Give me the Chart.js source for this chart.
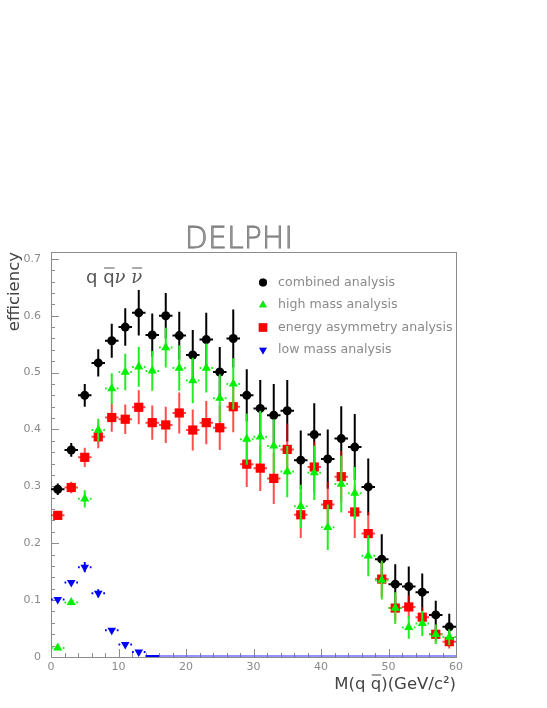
<!DOCTYPE html>
<html>
<head>
<meta charset="utf-8">
<script src="https://cdn.jsdelivr.net/npm/chart.js@4.4.0/dist/chart.umd.min.js"></script>
<style>
  html, body { margin: 0; padding: 0; background: #fff; }
  canvas { display: block; }
</style>
</head>
<body>
<canvas id="chart" width="547" height="708"></canvas>
<script>
// ---- data ----
const massBins = [1, 3, 5, 7, 9, 11, 13, 15, 17, 19, 21, 23, 25, 27, 29,
                  31, 33, 35, 37, 39, 41, 43, 45, 47, 49, 51, 53, 55, 57, 59];
const binHalfWidth = 1;

const combined    = [0.295, 0.364, 0.460, 0.517, 0.556, 0.580, 0.605, 0.566, 0.600, 0.565,
                     0.531, 0.558, 0.501, 0.560, 0.460, 0.437, 0.425, 0.433, 0.346, 0.391,
                     0.348, 0.384, 0.369, 0.299, 0.172, 0.128, 0.124, 0.114, 0.074, 0.053];
const combinedErr = [0.010, 0.012, 0.020, 0.024, 0.030, 0.033, 0.040, 0.038, 0.040, 0.042,
                     0.044, 0.047, 0.044, 0.051, 0.046, 0.050, 0.055, 0.054, 0.052, 0.055,
                     0.052, 0.057, 0.058, 0.050, 0.044, 0.035, 0.035, 0.033, 0.025, 0.023];

const highMass    = [0.016, 0.096, 0.278, 0.399, 0.472, 0.501, 0.510, 0.503, 0.544, 0.508,
                     0.486, 0.508, 0.455, 0.480, 0.383, 0.387, 0.371, 0.326, 0.265, 0.324,
                     0.228, 0.304, 0.288, 0.178, 0.135, 0.086, 0.052, 0.059, 0.040, 0.035];
const highMassErr = [0.004, 0.005, 0.015, 0.020, 0.027, 0.032, 0.035, 0.035, 0.035, 0.040,
                     0.040, 0.043, 0.042, 0.045, 0.045, 0.046, 0.047, 0.045, 0.038, 0.048,
                     0.040, 0.050, 0.046, 0.036, 0.034, 0.028, 0.020, 0.022, 0.017, 0.014];

const energyAsym    = [0.249, 0.298, 0.351, 0.387, 0.421, 0.418, 0.439, 0.412, 0.408, 0.429,
                       0.399, 0.412, 0.403, 0.440, 0.339, 0.332, 0.314, 0.365, 0.250, 0.334,
                       0.268, 0.317, 0.255, 0.217, 0.137, 0.086, 0.088, 0.070, 0.040, 0.027];
const energyAsymErr = [0.005, 0.010, 0.017, 0.020, 0.025, 0.026, 0.030, 0.030, 0.032, 0.036,
                       0.036, 0.038, 0.039, 0.045, 0.040, 0.040, 0.045, 0.045, 0.041, 0.045,
                       0.040, 0.045, 0.046, 0.038, 0.030, 0.022, 0.020, 0.018, 0.014, 0.012];

const lowMass    = [0.101, 0.131, 0.158, 0.112, 0.047, 0.022, 0.009, 0, 0, 0,
                    0, 0, 0, 0, 0, 0, 0, 0, 0, 0,
                    0, 0, 0, 0, 0, 0, 0, 0, 0, 0];
const lowMassErr = [0.003, 0.004, 0.009, 0.007, 0.004, 0.003, 0.002, 0, 0, 0,
                    0, 0, 0, 0, 0, 0, 0, 0, 0, 0,
                    0, 0, 0, 0, 0, 0, 0, 0, 0, 0];

const seriesLabels = ['combined analysis', 'high mass analysis',
                      'energy asymmetry analysis', 'low mass analysis'];

const xTickValues = [0, 10, 20, 30, 40, 50, 60];
const xTickLabels = ['0', '10', '20', '30', '40', '50', '60'];
const yTickValues = [0, 0.1, 0.2, 0.3, 0.4, 0.5, 0.6, 0.7];
const yTickLabels = ['0', '0.1', '0.2', '0.3', '0.4', '0.5', '0.6', '0.7'];
const xMinorStep = 2;
const yMinorStep = 0.02;

const chartTitle = 'DELPHI';
const yTitle = 'efficiency';

// ---- helpers ----
function toPoints(vals) {
    return massBins.map((m, i) => ({ x: m, y: vals[i] }));
}

function drawOverlined(ctx, parts, x, y) {
    // parts: [text, overline height, font] drawn left to right from x
    let cx = x;
    parts.forEach(([txt, bar, font]) => {
        if (font) ctx.font = font;
        const w = ctx.measureText(txt).width;
        ctx.fillText(txt, cx, y);
        if (bar) {
            ctx.beginPath();
            ctx.moveTo(cx + 1, y - bar);
            ctx.lineTo(cx + w, y - bar);
            ctx.stroke();
        }
        cx += w;
    });
    return cx;
}

// error bars, drawn right before each dataset so the stacking matches
const errorBars = {
    id: 'errorBars',
    beforeDatasetDraw(chart, args) {
        const ds = chart.data.datasets[args.index];
        if (!ds.yErr) return;
        const ctx = chart.ctx;
        const xs = chart.scales.x, ys = chart.scales.y;
        ctx.save();
        ctx.lineWidth = 2;
        ds.data.forEach((p, i) => {
            const px = xs.getPixelForValue(p.x);
            const py = ys.getPixelForValue(p.y);
            const x0 = xs.getPixelForValue(p.x - binHalfWidth);
            const x1 = xs.getPixelForValue(p.x + binHalfWidth);
            const e = ds.yErr[i];
            if (p.y === 0) {
                // first empty bin darker, the rest sit on the axis
                const prev = i > 0 ? ds.data[i - 1].y : 0;
                ctx.strokeStyle = prev > 0 ? ds.barColor : ds.zeroColor;
                ctx.beginPath();
                ctx.moveTo(x0, py - 1);
                ctx.lineTo(x1, py - 1);
                ctx.stroke();
                return;
            }
            ctx.strokeStyle = ds.barColor;
            const g = ds.barGap;
            ctx.beginPath();
            ctx.moveTo(x0, py); ctx.lineTo(px - g, py);
            ctx.moveTo(px + g, py); ctx.lineTo(x1, py);
            if (e > 0) {
                ctx.moveTo(px, ys.getPixelForValue(p.y + e));
                ctx.lineTo(px, ys.getPixelForValue(p.y - e));
            }
            ctx.stroke();
        });
        ctx.restore();
    }
};

// frame, inward ticks, tick labels, titles
const frame = {
    id: 'frame',
    beforeDatasetsDraw(chart) {
        const ctx = chart.ctx;
        const a = chart.chartArea;
        const xs = chart.scales.x, ys = chart.scales.y;
        ctx.save();
        ctx.strokeStyle = '#8c8c8c';
        ctx.lineWidth = 1;
        ctx.strokeRect(a.left + 0.5, a.top + 0.5, a.right - a.left, a.bottom - a.top);

        ctx.beginPath();
        for (let v = xs.min; v <= xs.max + 1e-9; v += xMinorStep) {
            const px = Math.round(xs.getPixelForValue(v)) + 0.5;
            const len = Math.abs(v % 10) < 1e-6 ? 8 : 4;
            ctx.moveTo(px, a.bottom);
            ctx.lineTo(px, a.bottom - len);
        }
        for (let k = 0; k * yMinorStep <= ys.max + 1e-9; k++) {
            const v = k * yMinorStep;
            const py = Math.round(ys.getPixelForValue(v)) + 0.5;
            const len = k % 5 === 0 ? 8 : 4;
            ctx.moveTo(a.left, py);
            ctx.lineTo(a.left + len, py);
        }
        ctx.stroke();

        ctx.fillStyle = '#8a8a8a';
        ctx.font = "11px 'DejaVu Sans'";
        ctx.textAlign = 'center';
        ctx.textBaseline = 'middle';
        xTickValues.forEach((v, i) => {
            ctx.fillText(xTickLabels[i], xs.getPixelForValue(v), a.bottom + 10);
        });
        ctx.textAlign = 'right';
        yTickValues.forEach((v, i) => {
            ctx.fillText(yTickLabels[i], a.left - 10, ys.getPixelForValue(v));
        });
        ctx.restore();
    },
    afterDraw(chart) {
        const ctx = chart.ctx;
        const a = chart.chartArea;
        ctx.save();

        // title
        ctx.font = "200 30px 'DejaVu Sans'";
        ctx.textAlign = 'center';
        ctx.textBaseline = 'alphabetic';
        ctx.fillStyle = '#a0a0a0';
        ctx.strokeStyle = '#7a7a7a';
        ctx.lineWidth = 0.8;
        ctx.fillText(chartTitle, 239, 248);
        ctx.strokeText(chartTitle, 239, 248);

        // y title
        ctx.save();
        ctx.translate(19, a.top);
        ctx.rotate(-Math.PI / 2);
        ctx.font = "16.5px 'DejaVu Sans'";
        ctx.fillStyle = '#444';
        ctx.textAlign = 'right';
        ctx.fillText(yTitle, 0, 0);
        ctx.restore();

        // x title: M(q q̄)(GeV/c²)
        ctx.fillStyle = '#444';
        ctx.strokeStyle = '#444';
        ctx.lineWidth = 1;
        ctx.textAlign = 'left';
        ctx.font = "16.5px 'DejaVu Sans'";
        const xParts = [['M(q ', 0], ['q', 14], [')(GeV/c\u00B2)', 0]];
        const w = xParts.reduce((s, p) => s + ctx.measureText(p[0]).width, 0);
        drawOverlined(ctx, xParts, 456 - w, 689);

        // process label q q̄ ν ν̄
        ctx.fillStyle = '#555';
        ctx.strokeStyle = '#555';
        drawOverlined(ctx, [
            ['q ', 0, "18px 'DejaVu Sans'"],
            ['q', 15],
            ['\u03BD ', 0, "italic 18px 'DejaVu Serif'"],
            ['\u03BD', 15]
        ], 86, 283);

        // legend
        ctx.font = "12.6px 'DejaVu Sans'";
        ctx.textBaseline = 'middle';
        ctx.fillStyle = '#8a8a8a';
        const rows = [282.5, 305, 327.5, 350];
        chart.data.datasets.forEach((ds, i) => {
            const y = rows[i];
            Chart.helpers.drawPoint(ctx, {
                pointStyle: ds.pointStyle,
                rotation: ds.pointRotation || 0,
                radius: ds.legendRadius,
                borderWidth: 0
            }, 263, y);
            ctx.fillStyle = ds.backgroundColor;
            ctx.fill();
            ctx.fillStyle = '#8a8a8a';
            ctx.fillText(seriesLabels[i], 278, y);
        });
        ctx.restore();
    }
};

new Chart(document.getElementById('chart'), {
    type: 'scatter',
    data: {
        datasets: [
            {
                label: seriesLabels[0], data: toPoints(combined), yErr: combinedErr,
                pointStyle: 'circle', pointRadius: 4.5, legendRadius: 4,
                backgroundColor: '#000', borderColor: '#000', pointBorderWidth: 0,
                barColor: '#000', barGap: 0, order: 4
            },
            {
                label: seriesLabels[1], data: toPoints(highMass), yErr: highMassErr,
                pointStyle: 'triangle', pointRadius: 5.3, legendRadius: 4.5,
                backgroundColor: '#00f000', borderColor: '#00f000', pointBorderWidth: 0,
                barColor: '#22ee22', barGap: 5, order: 2
            },
            {
                label: seriesLabels[2], data: toPoints(energyAsym), yErr: energyAsymErr,
                pointStyle: 'rect', pointRadius: 6.5, legendRadius: 6,
                backgroundColor: '#ff0000', borderColor: '#ff0000', pointBorderWidth: 0,
                barColor: 'rgba(255,0,0,0.7)', barGap: 0, order: 3
            },
            {
                label: seriesLabels[3], data: toPoints(lowMass), yErr: lowMassErr,
                pointStyle: 'triangle', pointRotation: 180,
                pointRadius: lowMass.map(v => v === 0 ? 0 : 5), legendRadius: 4.5,
                backgroundColor: '#0000ff', borderColor: '#0000ff', pointBorderWidth: 0,
                barColor: '#0000ff', zeroColor: 'rgba(60,60,255,0.55)', barGap: 5, order: 1
            }
        ]
    },
    options: {
        responsive: false,
        animation: false,
        layout: { padding: { left: 51, right: 91, top: 252, bottom: 51 } },
        plugins: {
            legend: { display: false },
            tooltip: { enabled: false }
        },
        scales: {
            x: { type: 'linear', min: 0, max: 60, display: false },
            y: { type: 'linear', min: 0, max: 0.712, display: false }
        }
    },
    plugins: [frame, errorBars]
});
</script>
</body>
</html>
